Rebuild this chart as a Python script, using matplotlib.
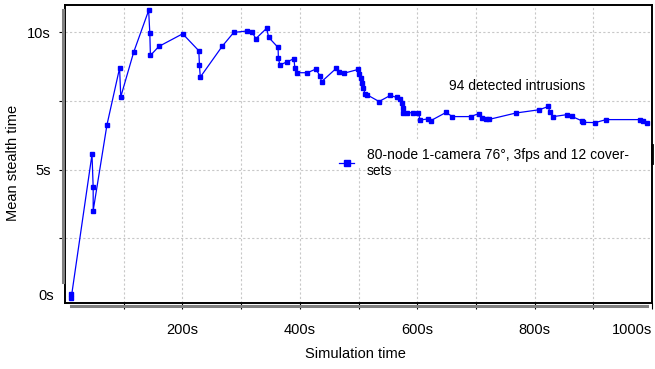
import numpy as np
import matplotlib
matplotlib.use('Agg')
import matplotlib.pyplot as plt
import matplotlib.transforms as mtransforms
from matplotlib.patches import Rectangle
from matplotlib.lines import Line2D

plt.rcParams['font.family'] = ['Liberation Sans', 'DejaVu Sans']
plt.rcParams['font.size'] = 10

# simulation time (s) and mean stealth time (s) of each detected intrusion
sim_time = [10, 10.5, 46, 48, 48, 71.5, 93, 95, 117, 142.5, 144.5, 145.5, 160,
            200.5, 228, 229, 230.5, 268, 287.5, 309.5, 319, 325, 343.5, 347,
            363, 363.5, 366, 378.5, 390, 391.5, 395, 413, 427, 434.5, 437,
            462, 467, 475, 499.5, 501.5, 504, 506, 508.5, 511, 515, 535,
            554, 565, 571, 574, 575, 576.5, 583, 593, 602, 605, 619, 623,
            649, 660, 691, 705, 711, 717, 723, 768, 808, 823.5, 826, 832,
            855, 863, 880, 883, 903, 922, 980, 985, 992]
stealth = [0.45, 0.3, 5.55, 4.35, 3.5, 6.63, 8.7, 7.65, 9.28, 10.8, 9.97, 9.16, 9.49,
           9.95, 9.33, 8.81, 8.37, 9.5, 10.0, 10.05, 10.01, 9.77, 10.15, 9.82,
           9.45, 9.07, 8.81, 8.93, 9.04, 8.72, 8.53, 8.53, 8.66, 8.42, 8.2,
           8.69, 8.55, 8.51, 8.65, 8.47, 8.32, 8.14, 7.98, 7.74, 7.72, 7.48,
           7.7, 7.63, 7.56, 7.41, 7.25, 7.07, 7.07, 7.07, 7.07, 6.8, 6.85, 6.78,
           7.08, 6.93, 6.93, 7.04, 6.88, 6.85, 6.83, 7.06, 7.18, 7.3, 7.08, 6.93,
           7.0, 6.94, 6.78, 6.72, 6.71, 6.82, 6.82, 6.77, 6.7]
series_label = '80-node 1-camera 76°, 3fps and 12 cover-\nsets'
note = '94 detected intrusions'

fig = plt.figure(figsize=(6.55, 3.69), dpi=100)
ax = fig.add_axes([65/655, 1-303.3/369, 587/655, 298.3/369])

ax.plot(sim_time, stealth, color='#0000ff', lw=0.9, marker='s', ms=2.8,
        mec='#0000ff', mfc='#0000ff', label=series_label, zorder=3)

ax.set_xlim(0, 1000)
ax.set_ylim(0.12, 11.0)

ax.set_xticks(np.arange(100, 1001, 100))
ax.set_xticklabels(['' if v % 200 else '%ds' % v for v in range(100, 1001, 100)])
ax.xaxis.get_ticklabels()[-1].set_ha('right')
ax.set_yticks([2.5, 5, 7.5, 10])
ax.set_yticklabels(['', '5s', '', '10s'])
ax.tick_params(axis='both', direction='out', length=4, width=0.8, colors='black',
               labelsize=10.5)
ax.tick_params(axis='x', pad=10)
ax.tick_params(axis='y', pad=6)
ax.text(-0.018, 0.025, '0s', transform=ax.transAxes, ha='right', va='center',
        fontsize=10.5)

ax.grid(True, color='#c8c8c8', linestyle=(0, (2, 2)), linewidth=0.8)
ax.set_axisbelow(True)
for s in ax.spines.values():
    s.set_linewidth(1.4)
    s.set_color('black')

ax.set_xlabel('Simulation time', fontsize=10.5)
ax.set_ylabel('Mean stealth time', fontsize=10.5)
ax.xaxis.set_label_coords(0.495, -0.146)
ax.yaxis.set_label_coords(-0.077, 0.47)

ax.text(771, 8.04, note, ha='center', va='center', fontsize=10)

# white strip behind the legend
ax.add_patch(Rectangle((0.451, 0.456), 0.546, 0.091, transform=ax.transAxes,
                       facecolor='white', edgecolor='none', zorder=1))
leg = ax.legend(loc='upper left', bbox_to_anchor=(0.455, 0.545), frameon=False,
                handlelength=1.1, handletextpad=0.9, borderpad=0, markerscale=1.6,
                fontsize=10)
leg.set_zorder(4)

# grey range bars outside the frame
bx = mtransforms.blended_transform_factory(ax.transData, fig.transFigure)
fig.add_artist(Line2D([min(sim_time), max(sim_time)], [1-305.7/369]*2, transform=bx,
                      color='#808080', lw=2.2))
fig.add_artist(Line2D([62.5/655]*2, [1-10/369, 1-282/369], transform=fig.transFigure,
                      color='#808080', lw=2.2))
fig.add_artist(Line2D([651.5/655]*2, [1-145/369, 1-163/369], transform=fig.transFigure,
                      color='black', lw=2.0))

fig.savefig('out.png', dpi=100)
